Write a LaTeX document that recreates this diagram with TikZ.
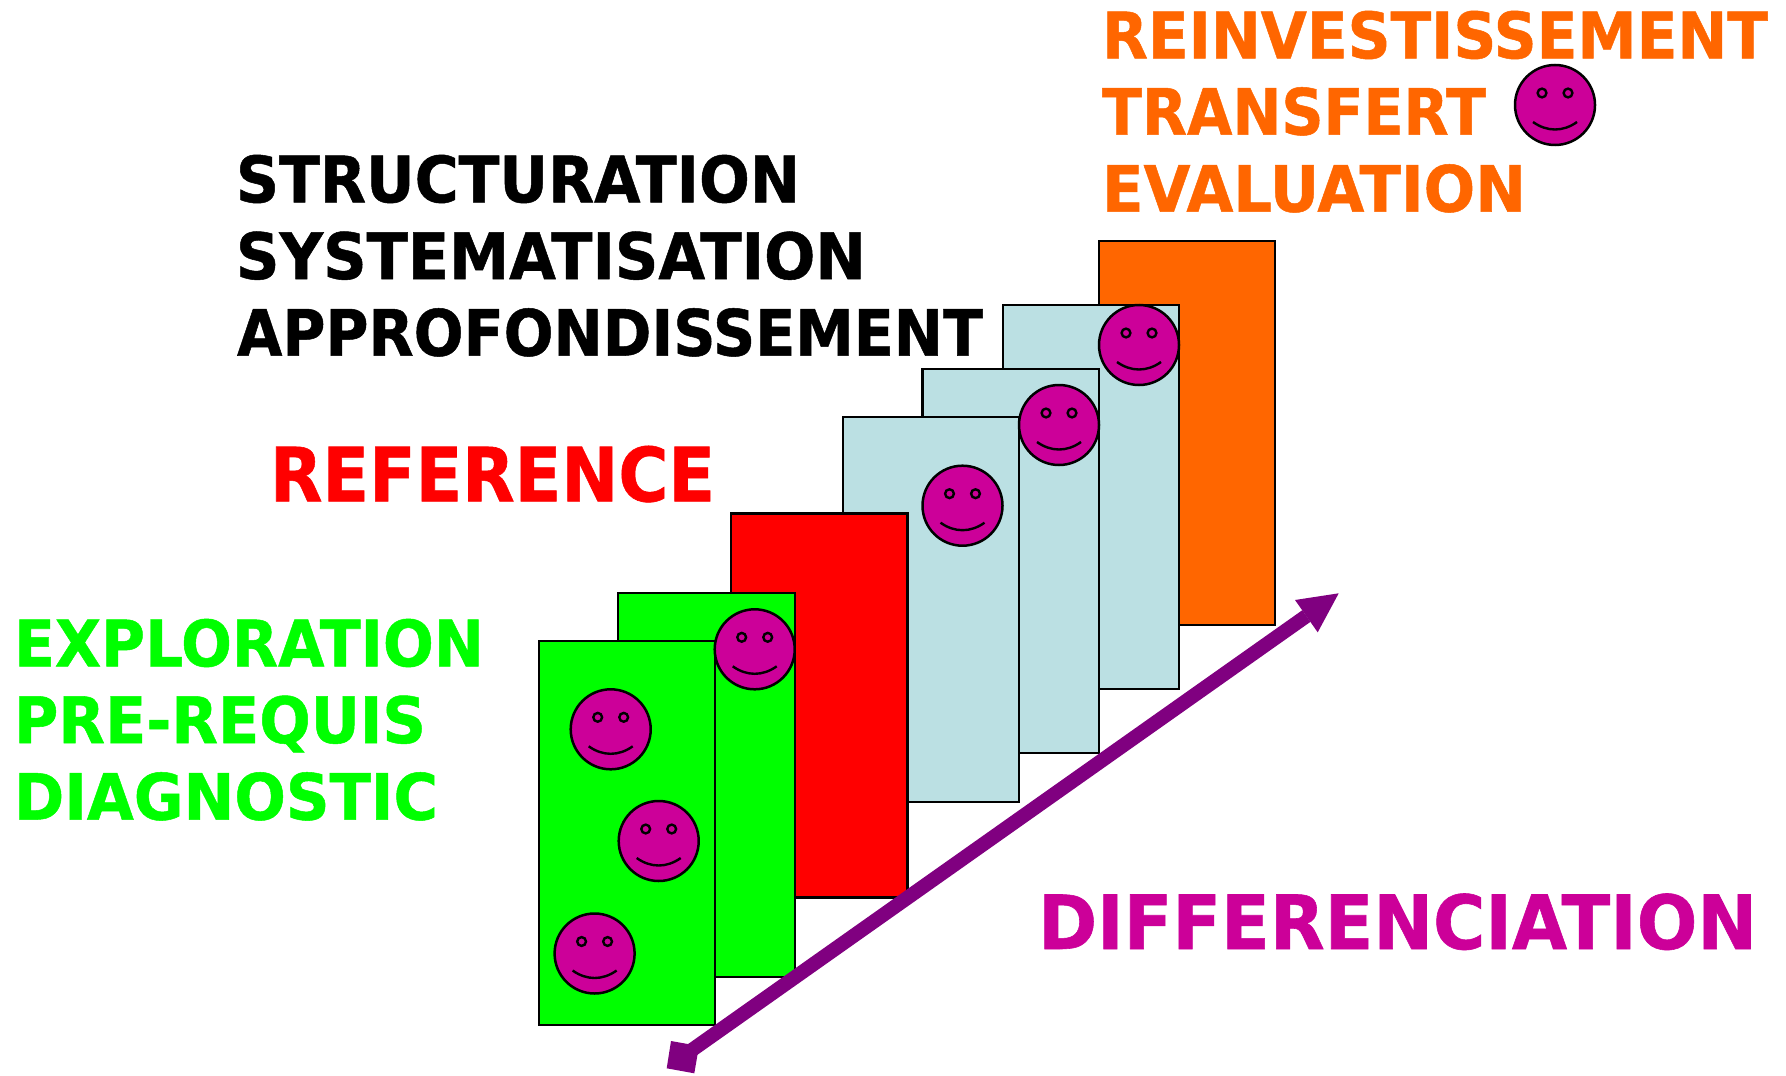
\documentclass[tikz,border=0pt]{standalone}
\usepackage{fontspec}
\usepackage{graphicx}
\setmainfont{DejaVu Sans}[BoldFont={DejaVu Sans Bold},BoldFeatures={FakeBold=0.8}]
\usetikzlibrary{calc}
\definecolor{cgreen}{RGB}{0,255,0}
\definecolor{cred}{RGB}{255,0,0}
\definecolor{cblue}{RGB}{187,224,227}
\definecolor{corange}{RGB}{255,102,0}
\definecolor{cmag}{RGB}{204,0,153}
\definecolor{cpurple}{RGB}{128,0,128}
\newcommand{\biglab}{\fontsize{32}{32}\selectfont\bfseries}
\newcommand{\hugelab}{\fontsize{37.4}{37.4}\selectfont\bfseries}
% name, x, baseline y, width (pt), colour, font, text
\newcommand{\fitlabel}[7]{%
  \node[lab,text=#5] (#1) at (#2,#3) {#6\resizebox{#4pt}{\height}{#7}};}
\tikzset{
  sheet/.style={draw=black,line width=1.1pt},
  lab/.style={anchor=base west,inner sep=0pt,outer sep=0pt},
  smileface/.style={circle,draw=black,fill=cmag,line width=1.25pt,minimum size=40pt,inner sep=0pt,outer sep=0pt},
}
\newcommand{\smiley}[3]{%
  \node[smileface] (#1) at (#2,#3) {};
  \draw[line width=1.2pt,fill=cmag] ($(#1)+(-13,-12)$) circle (2.2pt);
  \draw[line width=1.2pt,fill=cmag] ($(#1)+(13,-12)$) circle (2.2pt);
  \draw[line width=1.2pt] ($(#1)+(-22,17)$) .. controls ($(#1)+(-8,27)$) and ($(#1)+(8,27)$) .. ($(#1)+(22,17)$);
}
\begin{document}
\begin{tikzpicture}[x=0.5pt,y=-0.5pt]
\useasboundingbox (0,0) rectangle (1786,1075);
\fill[white] (0,0) rectangle (1786,1075);
\draw[sheet,fill=corange] (1099,241) rectangle (1275,625);
\draw[sheet,fill=cblue] (1003,305) rectangle (1179,689);
\draw[sheet,fill=cblue] (922.5,369) rectangle (1099,753);
\draw[sheet,fill=cblue] (843,417) rectangle (1019,802);
\draw[sheet,fill=cred] (731,513.5) rectangle (907.5,897.5);
\draw[sheet,fill=cgreen] (618,593) rectangle (795,977);
\draw[sheet,fill=cgreen] (539,641) rectangle (715,1025);
\smiley{s1}{610.7}{729.3}
\smiley{s2}{754.7}{649.3}
\smiley{s3}{658.7}{841}
\smiley{s4}{594.6}{953.5}
\smiley{s5}{962.5}{505.7}
\smiley{s6}{1059}{425}
\smiley{s7}{1139}{345}
\smiley{s8}{1555}{105}
\coordinate (tail) at (682,1057);
\coordinate (tip) at (1306.4,616);
\fill[cpurple] (671,1041) -- (666.7,1068.3) -- (694.3,1073.3) -- (699,1046) -- cycle;
\fill[cpurple] (1338.7,593.3) -- (1295,600) -- (1317.7,632.3) -- cycle;
\draw[cpurple,line width=7.1pt] (tail) -- (tip);
\fitlabel{t1}{1102}{58.3}{333}{corange}{\biglab}{REINVESTISSEMENT}
\fitlabel{t2}{1102}{134.7}{192}{corange}{\biglab}{TRANSFERT}
\fitlabel{t3}{1102}{211.7}{212}{corange}{\biglab}{EVALUATION}
\fitlabel{t4}{236}{202.3}{282}{black}{\biglab}{STRUCTURATION}
\fitlabel{t5}{236}{279}{315}{black}{\biglab}{SYSTEMATISATION}
\fitlabel{t6}{237}{355.7}{373}{black}{\biglab}{APPROFONDISSEMENT}
\fitlabel{t7}{270}{501.3}{222.5}{cred}{\hugelab}{REFERENCE}
\fitlabel{t8}{14}{666.3}{235}{cgreen}{\biglab}{EXPLORATION}
\fitlabel{t9}{14}{743}{206}{cgreen}{\biglab}{PRE-REQUIS}
\fitlabel{t10}{14}{819.7}{212}{cgreen}{\biglab}{DIAGNOSTIC}
\fitlabel{t11}{1038}{949}{359.5}{cmag}{\hugelab}{DIFFERENCIATION}
\end{tikzpicture}
\end{document}
